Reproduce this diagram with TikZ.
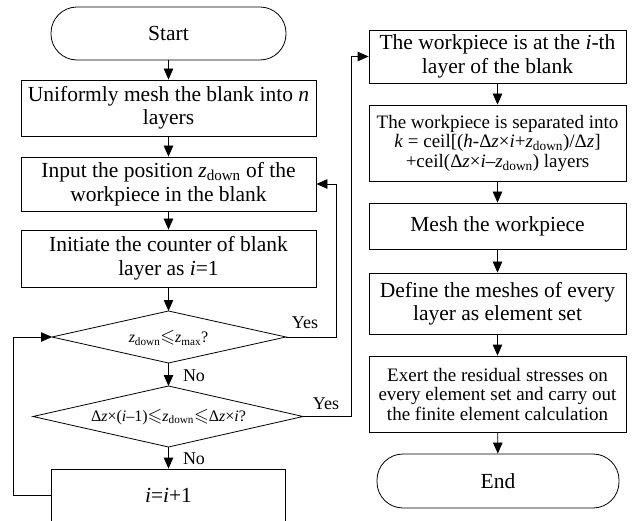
\documentclass[tikz,border=0pt]{standalone}
\usepackage{amssymb}
\usepackage{fontspec}
\setmainfont{Liberation Serif}
\usetikzlibrary{arrows.meta}
\newcommand{\zd}{\textit{z}\textsubscript{down}}
\newcommand{\lesl}{{\fontsize{19pt}{19pt}\selectfont$\leqslant$}}
\begin{document}
\begin{tikzpicture}[x=1pt,y=-1pt,
  every node/.style={font=\fontsize{21.5pt}{23.5pt}\selectfont},
  box/.style={draw,line width=0.8pt,rectangle,inner sep=0pt,align=center,minimum width=#1},
  box/.default=295pt,
  rbox/.style={box=257pt},
  term/.style={draw,line width=0.8pt,rectangle,rounded corners=26pt,inner sep=0pt,minimum height=53pt},
  diatext/.style={inner sep=0pt,font=\fontsize{16pt}{18pt}\selectfont},
  small/.style={font=\fontsize{19pt}{19.5pt}\selectfont},
  lab/.style={inner sep=0pt,font=\fontsize{18pt}{20pt}\selectfont},
  arr/.style={line width=0.8pt,-{Triangle[length=11pt,width=9.5pt]}},
  ln/.style={line width=0.8pt}]
\useasboundingbox (0,0) rectangle (634,521);
% left column
\node[term,minimum width=235pt] (start) at (168.5,33.5) {Start};
\node[box,minimum height=56pt] (b2) at (168.5,108) {Uniformly mesh the blank into \textit{n}\\layers};
\node[box,minimum height=54pt] (b3) at (168.5,184) {Input the position \zd\ of the\\workpiece in the blank};
\node[box,minimum height=57pt] (b4) at (168.5,258.5) {Initiate the counter of blank\\layer as \textit{i}=1};
% decision 1
\coordinate (d1n) at (168.5,311);
\coordinate (d1s) at (168.5,363);
\coordinate (d1w) at (52,337);
\coordinate (d1e) at (286,337);
\draw[ln] (d1n) -- (d1e) -- (d1s) -- (d1w) -- cycle;
\node[diatext] (d1) at (168.5,338) {\zd\lesl\textit{z}\textsubscript{max}?};
% decision 2
\coordinate (d2n) at (168.5,386);
\coordinate (d2s) at (168.5,447);
\coordinate (d2w) at (33,416.5);
\coordinate (d2e) at (303,416.5);
\draw[ln] (d2n) -- (d2e) -- (d2s) -- (d2w) -- cycle;
\node[diatext] (d2) at (168.5,417) {Δ\textit{z}×(\textit{i}–1)\lesl\zd\lesl Δ\textit{z}×\textit{i}?};
\node[box=234pt,minimum height=53pt] (b5) at (168.5,495.5) {\textit{i}=\textit{i}+1};
% right column
\node[rbox,minimum height=53pt] (r1) at (497.5,56.5) {The workpiece is at the \textit{i}-th\\layer of the blank};
\node[rbox,small,minimum height=76pt] (r2) at (497.5,143) {The workpiece is separated into\\\textit{k} = ceil[(\textit{h}-Δ\textit{z}×\textit{i}+\zd)/Δ\textit{z}]\\+ceil(Δ\textit{z}×\textit{i}–\zd) layers};
\node[rbox,minimum height=46pt] (r3) at (497.5,226) {Mesh the workpiece};
\node[rbox,minimum height=61pt] (r4) at (497.5,303.5) {Define the meshes of every\\layer as element set};
\node[rbox,small,minimum height=76pt] (r5) at (497.5,394) {Exert the residual stresses on\\every element set and carry out\\the finite element calculation};
\node[term,minimum width=242pt,minimum height=54pt] (end) at (498,481) {End};
% helper coordinates
\coordinate (lp) at (13,0);
\coordinate (y1) at (336,0);
\coordinate (y2) at (351,0);
% connectors
\draw[arr] (start) -- (b2);
\draw[arr] (b2) -- (b3);
\draw[arr] (b3) -- (b4);
\draw[arr] (b4) -- (d1n);
\draw[arr] (d1s) -- (d2n);
\draw[arr] (d2s) -- (b5);
\draw[arr] (b5.west) -- (b5.west -| lp) |- (d1w);
\draw[arr] (d1e) -- (d1e -| y1) |- (b3.east);
\draw[arr] (d2e) -- (d2e -| y2) |- (r1.west);
\draw[arr] (r1) -- (r2);
\draw[arr] (r2) -- (r3);
\draw[arr] (r3) -- (r4);
\draw[arr] (r4) -- (r5);
\draw[arr] (r5) -- (end);
% labels
\node[lab] (yes1) at (305,323) {Yes};
\node[lab] (yes2) at (326,404) {Yes};
\node[lab] (no1) at (194,376) {No};
\node[lab] (no2) at (194,459) {No};
\end{tikzpicture}
\end{document}
